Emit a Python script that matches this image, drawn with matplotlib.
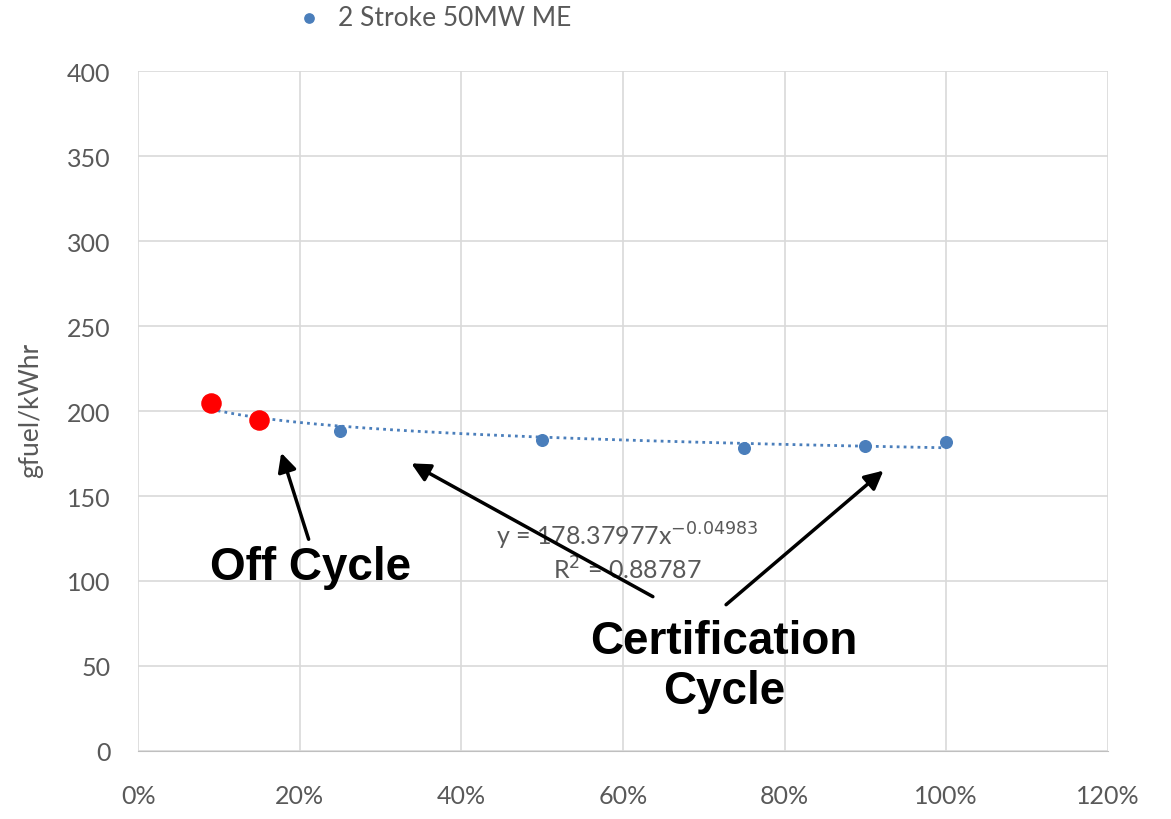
import numpy as np
import matplotlib
matplotlib.use("Agg")
import matplotlib.pyplot as plt
from matplotlib.ticker import PercentFormatter

# Certification cycle points (load fraction, g/kWh)
cert_load = [0.25, 0.50, 0.75, 0.90, 1.00]
cert_sfc = [188, 183, 178, 179.5, 182]

# Off-cycle points
off_load = [0.09, 0.15]
off_sfc = [205, 195]

# Power trendline shown on the chart
trend_a = 178.37977
trend_b = -0.04983
trend_r2 = 0.88787

blue = "#4a7ebb"
gray = "#595959"

fig = plt.figure(figsize=(11.71, 8.2), dpi=100)
ax = fig.add_axes([0.118, 0.083, 0.828, 0.829])

# Trendline
xt = np.linspace(0.09, 1.0, 200)
ax.plot(xt, trend_a * xt ** trend_b, color=blue, linestyle=(0, (1, 1.5)),
        linewidth=2, zorder=2)

ax.scatter(cert_load, cert_sfc, s=70, color=blue, zorder=3,
           label="2 Stroke 50MW ME")
ax.scatter(off_load, off_sfc, s=190, color="#ff0000", zorder=4)

ax.set_xlim(0, 1.2)
ax.set_ylim(0, 400)
ax.set_xticks(np.arange(0, 1.21, 0.2))
ax.set_yticks(range(0, 401, 50))
ax.xaxis.set_major_formatter(PercentFormatter(1.0, decimals=0))

ax.grid(True, color="#d9d9d9", linewidth=1.2)
ax.set_axisbelow(True)
for side in ["top", "right", "left"]:
    ax.spines[side].set_visible(False)
ax.spines["bottom"].set_color("#bfbfbf")
ax.tick_params(length=0, labelsize=18, labelcolor=gray)
ax.tick_params(axis="x", pad=24)
ax.tick_params(axis="y", pad=20)
for lbl in ax.get_xticklabels() + ax.get_yticklabels():
    lbl.set_family("Lato")

ax.set_ylabel("gfuel/kWhr", fontsize=19, color=gray, family="Lato")
ax.yaxis.set_label_coords(-0.098, 0.503)

leg = ax.legend(loc="center", bbox_to_anchor=(0.298, 1.079), frameon=False,
                prop={"family": "Lato", "size": 19}, handletextpad=0.1,
                markerscale=0.8)
for t in leg.get_texts():
    t.set_color(gray)

# Trendline equation
ax.text(0.605, 127, "y = 178.37977x$^{-0.04983}$", ha="center", va="center",
        fontsize=18, color=gray, family="Lato")
ax.text(0.605, 107, "R$^2$ = 0.88787", ha="center", va="center",
        fontsize=18, color=gray, family="Lato")

# Bold annotations with arrows
bold = dict(fontsize=33, fontweight="bold", family="Liberation Sans", color="black")
ax.text(0.213, 108, "Off Cycle", ha="center", va="center", **bold)
ax.text(0.725, 50, "Certification\nCycle", ha="center", va="center",
        linespacing=1.15, **bold)

arrow = dict(arrowstyle="-|>", color="black", lw=2.5, mutation_scale=28)
ax.annotate("", xy=(0.176, 177), xytext=(0.212, 123), arrowprops=arrow)
ax.annotate("", xy=(0.335, 170), xytext=(0.64, 90), arrowprops=arrow)
ax.annotate("", xy=(0.925, 166), xytext=(0.725, 85), arrowprops=arrow)

fig.savefig("out.png", dpi=100)
